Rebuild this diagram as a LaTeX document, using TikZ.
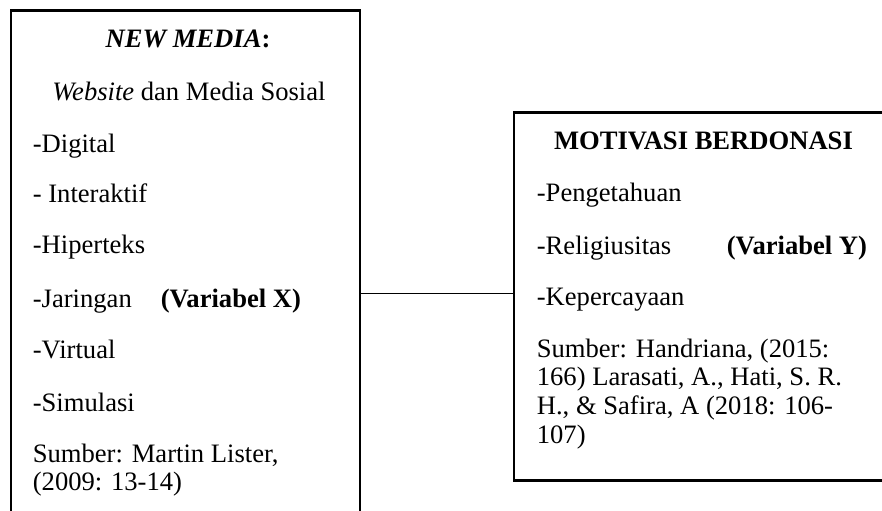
\documentclass[tikz,border=0pt]{standalone}
\usepackage{fontspec}
\setmainfont{Liberation Serif}
\usetikzlibrary{positioning}

\begin{document}
\begin{tikzpicture}[x=0.47pt, y=-0.47pt, thick,
    every node/.style = {font=\fontsize{12.5}{13.6}\selectfont},
    kotak/.style = {draw, line width=1.2pt, inner sep=0pt},
    teks/.style = {anchor=base west, inner sep=0pt},
    judul/.style = {anchor=base, inner sep=0pt},
    garis/.style = {line width=0.6pt}]
    \useasboundingbox (0,0) rectangle (882,510);
    \clip (0,0) rectangle (882,510);

    % kotak variabel X dan Y
    \node[kotak, minimum width=164pt, minimum height=266pt] (media) at (185.5,293.5) {};
    \node[kotak, minimum width=191pt, minimum height=173pt] (motiv) at (717,296.5) {};

    % isi kotak kiri
    \node[judul] (jm) at (188,47) {\textbf{\textit{NEW MEDIA}:}};
    \node[judul] (ws) at (189,100) {\textit{Website} dan Media Sosial};
    \node[teks] (dig) at (32,152) {-Digital};
    \node[teks] (int) at (32,202) {- Interaktif};
    \node[teks] (hip) at (32,253) {-Hiperteks};
    \node[teks] (jar) at (32,307) {-Jaringan};
    \node[teks] (vx) at (160,307) {\textbf{(Variabel X)}};
    \node[teks] (vir) at (32,358) {-Virtual};
    \node[teks] (sim) at (32,411) {-Simulasi};
    \node[teks] (sx) at (32,462) {\begin{tabular}[t]{@{}l@{}}Sumber: Martin Lister,\\(2009: 13-14)\end{tabular}};

    % isi kotak kanan
    \node[judul] (jmo) at (703.5,149) {\textbf{MOTIVASI BERDONASI}};
    \node[teks] (pen) at (536,201) {-Pengetahuan};
    \node[teks] (rel) at (536,254) {-Religiusitas};
    \node[teks] (vy) at (726,254) {\textbf{(Variabel Y)}};
    \node[teks] (kep) at (536,305) {-Kepercayaan};
    \node[teks] (sy) at (536,357) {\begin{tabular}[t]{@{}l@{}}Sumber: Handriana, (2015:\\166) Larasati, A., Hati, S. R.\\H., \& Safira, A (2018: 106-\\107)\end{tabular}};

    \draw[garis] (media.east) -- (media.east -| motiv.west);
\end{tikzpicture}
\end{document}
